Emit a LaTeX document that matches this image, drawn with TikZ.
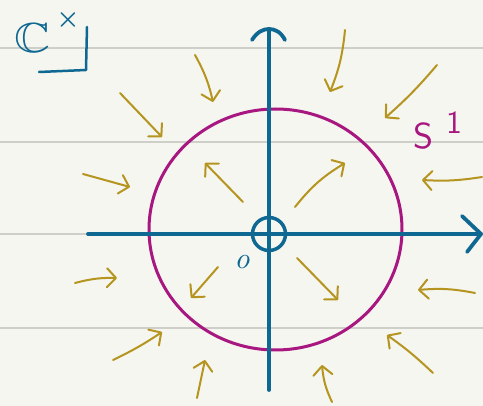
\documentclass[tikz,border=0pt]{standalone}
\usepackage{amssymb}
\usetikzlibrary{arrows.meta}
\definecolor{paper}{HTML}{F5F6F0}
\definecolor{ruleclr}{HTML}{CFCFCA}
\definecolor{axisblue}{HTML}{0F6891}
\definecolor{circmag}{HTML}{A8177F}
\definecolor{flowgold}{HTML}{B5951F}
\tikzset{
  ruleline/.style={draw=ruleclr, line width=2pt},
  axisline/.style={draw=axisblue, line width=3.8pt, line cap=round, line join=round},
  unitcircle/.style={draw=circmag, line width=3pt},
  flow/.style={draw=flowgold, line width=2pt, line cap=round,
    -{Straight Barb[length=9pt,width=19pt,round]}},
  bluelabel/.style={text=axisblue, inner sep=0pt},
  maglabel/.style={text=circmag, inner sep=0pt, font=\sffamily},
}
\begin{document}
\begin{tikzpicture}[x=1pt,y=-1pt]
  \fill[paper] (0,0) rectangle (483,406);
  \useasboundingbox (0,0) rectangle (483,406);
  % ruled lines
  \foreach \yy in {48,142,234,328} {
    \draw[ruleline] (0,\yy) -- (483,\yy);
  }
  % unit circle S^1
  \draw[unitcircle] (275.5,229.5) ellipse [x radius=126.5, y radius=120.5];
  % axes
  \coordinate (hl) at (88,234);
  \coordinate (hr) at (481,234);
  \coordinate (ha1) at (462,216);
  \coordinate (ha2) at (467,252);
  \coordinate (vb) at (269,390);
  \coordinate (vt) at (269,29);
  \coordinate (va1) at (252,40);
  \coordinate (va2) at (285,40);
  \draw[axisline] (hl) -- (hr);
  \draw[axisline] (ha1) -- (hr) -- (ha2);
  \draw[axisline] (vb) -- (vt);
  \draw[axisline] (va1) .. controls (257,32) and (263,29) .. (vt)
                        .. controls (275,29) and (281,32) .. (va2);
  % puncture at origin
  \draw[axisblue, line width=3.5pt] (269,234) circle [radius=16.5];
  \node[bluelabel, scale=3] (o) at (242,262) {\itshape o};
  % flow arrows
  \foreach \i/\ax/\ay/\bx/\by/\bd in {
     1/195/55/213/102/8,
     2/345/30/330/92/8,
     3/120/93/162/137/0,
     4/437/65/385/118/4,
     5/83/174/130/187/0,
     6/482/177/422/180/6,
     7/75/283/117/278/8,
     8/475/293/418/290/-8,
     9/113/360/162/332/-4,
    10/433/373/387/335/-4,
    11/197/398/205/360/0,
    12/332/402/322/365/10,
    13/243/202/205/163/0,
    14/295/207/345/163/10,
    15/218/267/191/298/0,
    16/297/258/338/300/0} {
    \coordinate (s\i) at (\ax,\ay);
    \coordinate (t\i) at (\bx,\by);
    \draw[flow] (s\i) to[bend left=\bd] (t\i);
  }
  % labels
  \node[bluelabel, xscale=5, yscale=4.2] (cc) at (33,38) {$\mathbb{C}$};
  \node[bluelabel, scale=2.6, font=\boldmath] (cx) at (68,20) {$\times$};
  \coordinate (br1) at (87,27);
  \coordinate (br2) at (86,70);
  \coordinate (br3) at (39,72);
  \draw[axisblue, line width=2.5pt, line cap=round, line join=round] (br1) -- (br2) -- (br3);
  \node[maglabel, scale=3.6] (s) at (424,136) {S};
  \node[maglabel, scale=3.2] (one) at (454,123) {1};
\end{tikzpicture}
\end{document}
